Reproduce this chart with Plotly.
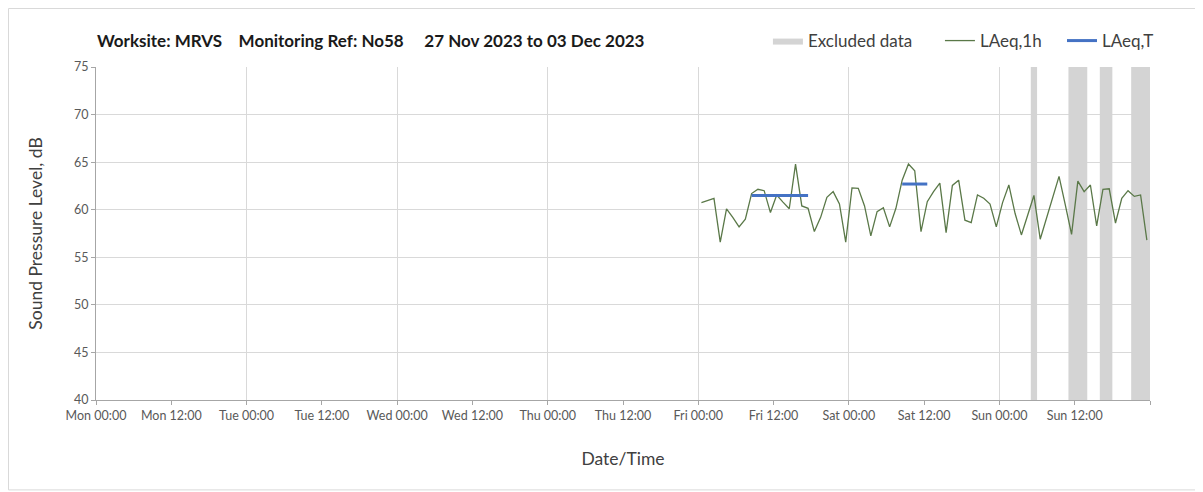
import pandas as pd
import plotly.graph_objects as go

# ---- data ----
first_hour = "2023-12-01 00:30"
laeq_1h = [60.75, 61.0, 61.2, 56.6, 60.1, 59.2, 58.2, 59.0, 61.7, 62.15, 62.0, 59.7,
           61.55, 60.8, 60.1, 64.8, 60.4, 60.15, 57.7, 59.2, 61.3, 61.9, 60.6, 56.6,
           62.3, 62.25, 60.4, 57.25, 59.8, 60.2, 58.2, 60.15, 63.1, 64.8, 64.1, 57.7,
           60.85, 61.9, 62.8, 57.6, 62.55, 63.1, 58.9, 58.65, 61.55, 61.2, 60.6, 58.2,
           60.75, 62.6, 59.6, 57.35, 59.45, 61.5, 56.9, 59.1, 61.2, 63.5, 60.5, 57.4,
           63.0, 61.9, 62.6, 58.3, 62.15, 62.2, 58.6, 61.2, 62.0, 61.4, 61.55, 56.8]

laeqT_start = ["2023-12-01 08:30", "2023-12-02 08:30"]
laeqT_end = ["2023-12-01 17:30", "2023-12-02 12:30"]
laeqT_value = [61.5, 62.7]

excluded_start = ["2023-12-03 05:00", "2023-12-03 11:00", "2023-12-03 16:00", "2023-12-03 21:00"]
excluded_end = ["2023-12-03 06:00", "2023-12-03 14:00", "2023-12-03 18:00", "2023-12-04 00:00"]

tick_times = ["2023-11-27 00:00", "2023-11-27 12:00", "2023-11-28 00:00", "2023-11-28 12:00",
              "2023-11-29 00:00", "2023-11-29 12:00", "2023-11-30 00:00", "2023-11-30 12:00",
              "2023-12-01 00:00", "2023-12-01 12:00", "2023-12-02 00:00", "2023-12-02 12:00",
              "2023-12-03 00:00", "2023-12-03 12:00", "2023-12-04 00:00"]
tick_labels = ["Mon 00:00", "Mon 12:00", "Tue 00:00", "Tue 12:00", "Wed 00:00", "Wed 12:00",
               "Thu 00:00", "Thu 12:00", "Fri 00:00", "Fri 12:00", "Sat 00:00", "Sat 12:00",
               "Sun 00:00", "Sun 12:00", ""]

y_min, y_max = 40, 75
x_range = ["2023-11-27 00:00", "2023-12-04 00:00"]
title_text = "Worksite: MRVS&nbsp;&nbsp;&nbsp; Monitoring Ref: No58&nbsp;&nbsp;&nbsp;&nbsp; 27 Nov 2023 to 03 Dec 2023"

# ---- build ----
times = pd.date_range(first_hour, periods=len(laeq_1h), freq="h")

ex_x, ex_y = [], []
for s, e in zip(excluded_start, excluded_end):
    ex_x += [s, s, e, e, s, None]
    ex_y += [y_min, y_max, y_max, y_min, y_min, None]

t_x, t_y = [], []
for s, e, v in zip(laeqT_start, laeqT_end, laeqT_value):
    t_x += [s, e, None]
    t_y += [v, v, None]

FONT = "Lato"
fig = go.Figure()
fig.add_trace(go.Scatter(x=ex_x, y=ex_y, mode="lines", fill="toself",
                         fillcolor="#d4d4d4", line=dict(width=0, color="#d4d4d4"),
                         name="Excluded data", hoverinfo="skip", legend="legend"))
fig.add_trace(go.Scatter(x=times, y=laeq_1h, mode="lines",
                         line=dict(color="#5a7848", width=1.3), name="LAeq,1h", legend="legend2"))
fig.add_trace(go.Scatter(x=t_x, y=t_y, mode="lines",
                         line=dict(color="#4472c4", width=3), name="LAeq,T", legend="legend3"))

leg_common = dict(orientation="h", xanchor="left", y=1.078, yanchor="middle",
                  font=dict(size=17, color="#404040"), bgcolor="rgba(0,0,0,0)",
                  itemwidth=30)

fig.update_layout(
    width=1195, height=484,
    margin=dict(l=88, r=53, t=59, b=92),
    paper_bgcolor="white", plot_bgcolor="white",
    font=dict(family=FONT, color="#404040"),
    showlegend=True,
    legend=dict(x=0.6375, **leg_common),
    legend2=dict(x=0.8007, **leg_common),
    legend3=dict(x=0.9165, **leg_common),
    annotations=[dict(text="<b>" + title_text + "</b>", x=-0.001, xref="paper", xanchor="left",
                      y=1.081, yref="paper", yanchor="middle", showarrow=False,
                      font=dict(size=17, color="#1a1a1a", family=FONT))],
    shapes=[dict(type="rect", xref="paper", yref="paper", x0=-0.0830, x1=1.0455,
                 y0=-0.27, y1=1.1757, line=dict(color="#d9d9d9", width=1), layer="below")],
)

fig.update_xaxes(
    type="date", range=x_range,
    tickmode="array", tickvals=tick_times, ticktext=tick_labels,
    tickfont=dict(size=12.5, color="#595959"),
    ticks="outside", ticklen=4, tickcolor="#a6a6a6",
    showgrid=False, showline=True, linecolor="#a6a6a6", linewidth=1,
    minor=dict(dtick=24 * 3600 * 1000, tick0="2023-11-27", showgrid=True,
               gridcolor="#d9d9d9", gridwidth=1),
    title=dict(text="Date/Time", font=dict(size=17.5, color="#404040"), standoff=30),
    zeroline=False,
)
fig.update_yaxes(
    range=[y_min, y_max], dtick=5,
    tickfont=dict(size=12.5, color="#595959"),
    ticks="outside", ticklen=4, tickcolor="#a6a6a6",
    showgrid=True, gridcolor="#d9d9d9", gridwidth=1,
    showline=True, linecolor="#a6a6a6", linewidth=1,
    title=dict(text="Sound Pressure Level, dB", font=dict(size=17.5, color="#404040"), standoff=26),
    zeroline=False,
)

fig.write_html("out.html")
